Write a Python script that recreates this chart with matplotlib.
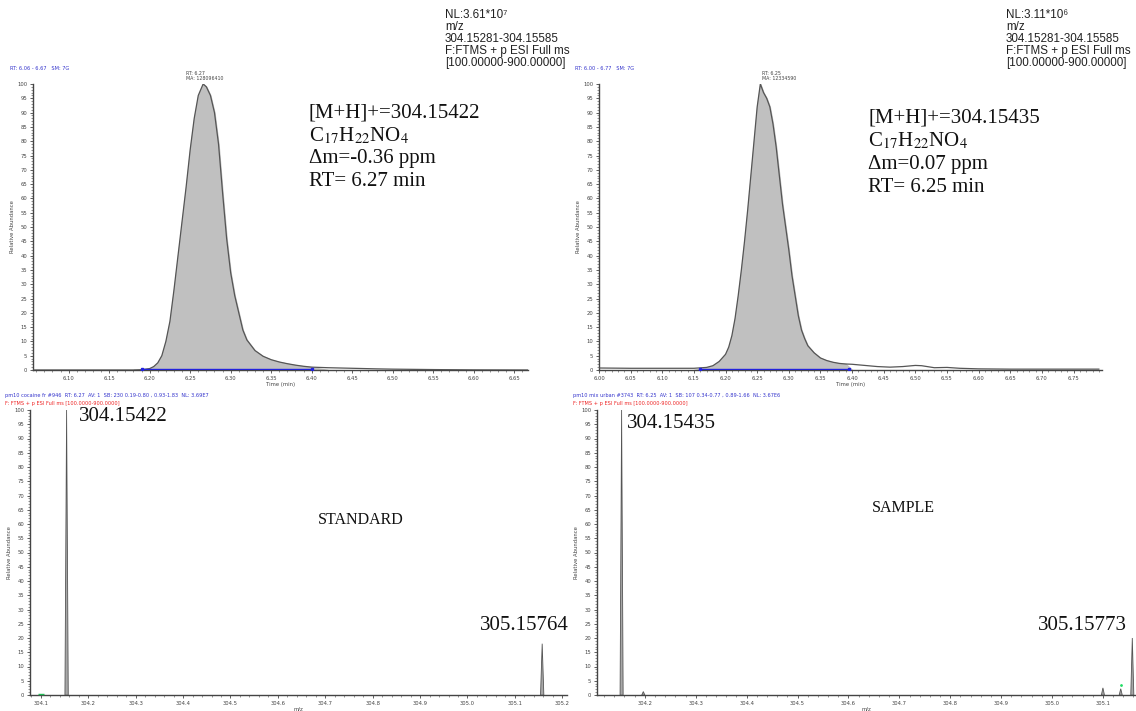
import matplotlib
matplotlib.use('Agg')
import matplotlib.pyplot as plt
from matplotlib.ticker import MultipleLocator

plt.rcParams['mathtext.fontset'] = 'stix'

# ---- Chromatogram data (RT in min, relative abundance %) ----
std_rt  = [6.056, 6.10, 6.15, 6.18, 6.19, 6.20, 6.205, 6.21, 6.215, 6.22, 6.225, 6.23, 6.235,
           6.24, 6.245, 6.25, 6.255, 6.26, 6.266, 6.27, 6.275, 6.28, 6.285, 6.29, 6.295,
           6.30, 6.305, 6.31, 6.315, 6.32, 6.33, 6.34, 6.35, 6.36, 6.37, 6.38, 6.39,
           6.40, 6.42, 6.45, 6.48, 6.50, 6.55, 6.60, 6.667]
std_abd = [0.0, 0.0, 0.0, 0.0, 0.1, 0.5, 1.2, 2.5, 5.0, 10.0, 17.0, 28.0, 40.0,
           52.0, 64.0, 77.0, 88.0, 96.0, 100.0, 99.0, 96.0, 90.0, 79.0, 62.0, 46.0,
           34.0, 26.0, 20.0, 14.0, 10.5, 6.8, 4.8, 3.6, 2.8, 2.2, 1.7, 1.3,
           1.0, 0.8, 0.6, 0.4, 0.3, 0.15, 0.05, 0.0]

smp_rt  = [6.00, 6.05, 6.10, 6.15, 6.17, 6.18, 6.19, 6.20, 6.205, 6.21, 6.215, 6.22, 6.225,
           6.23, 6.235, 6.24, 6.245, 6.25, 6.255, 6.26, 6.265, 6.27, 6.275, 6.28, 6.285,
           6.29, 6.295, 6.30, 6.305, 6.31, 6.315, 6.32, 6.325, 6.33, 6.34, 6.35, 6.36,
           6.37, 6.38, 6.39, 6.40, 6.42, 6.44, 6.46, 6.48, 6.50, 6.51, 6.53, 6.55, 6.57,
           6.60, 6.65, 6.70, 6.79]
smp_abd = [0.7, 0.6, 0.6, 0.6, 0.9, 1.5, 3.0, 5.5, 8.0, 12.0, 18.0, 26.0, 35.0,
           45.0, 56.0, 68.0, 80.0, 92.0, 100.0, 97.0, 95.0, 92.0, 86.0, 78.0, 68.0,
           58.0, 50.0, 42.0, 33.0, 26.0, 19.0, 14.0, 11.0, 8.5, 6.0, 4.2, 3.3,
           2.7, 2.3, 2.1, 2.0, 1.6, 1.2, 1.0, 1.2, 1.6, 1.5, 0.8, 0.9, 0.6,
           0.4, 0.3, 0.3, 0.3]

std_integration = (6.19, 6.40)
smp_integration = (6.16, 6.395)

# ---- Mass spectra (m/z, relative abundance %) ----
std_mz  = [304.15422, 305.15764]
std_int = [100.0, 18.0]

smp_mz  = [304.15435, 304.197, 305.100, 305.135, 305.15773]
smp_int = [100.0, 1.2, 2.5, 2.2, 20.0]

# ---- Text ----
std_info = ['[M+H]+=304.15422', r'C$_{17}$H$_{22}$NO$_{4}$', 'Δm=-0.36 ppm', 'RT= 6.27 min']
smp_info = ['[M+H]+=304.15435', r'C$_{17}$H$_{22}$NO$_{4}$', 'Δm=0.07 ppm', 'RT= 6.25 min']
std_nl = ['NL:3.61*10⁷', 'm/z', '304.15281-304.15585', 'F:FTMS + p ESI Full ms', '[100.00000-900.00000]']
smp_nl = ['NL:3.11*10⁶', 'm/z', '304.15281-304.15585', 'F:FTMS + p ESI Full ms', '[100.00000-900.00000]']

W, H = 1136, 711
fig = plt.figure(figsize=(W / 100, H / 100), dpi=100)


def px_axes(x0, y0, x1, y1):
    # pixel box (left, top, right, bottom) -> axes
    return fig.add_axes([x0 / W, 1 - y1 / H, (x1 - x0) / W, (y1 - y0) / H])


def style_axes(ax, xmajor, xminor, xfmt):
    ax.set_ylim(0, 100)
    ax.spines['top'].set_visible(False)
    ax.spines['right'].set_visible(False)
    for s in ['left', 'bottom']:
        ax.spines[s].set_color('#444444')
        ax.spines[s].set_linewidth(1.0)
    ax.yaxis.set_major_locator(MultipleLocator(5))
    ax.yaxis.set_minor_locator(MultipleLocator(1))
    ax.xaxis.set_major_locator(MultipleLocator(xmajor))
    ax.xaxis.set_minor_locator(MultipleLocator(xminor))
    ax.xaxis.set_major_formatter(xfmt)
    ax.tick_params(which='major', length=2.5, width=0.6, labelsize=3.8, pad=1.5, colors='#444444')
    ax.tick_params(which='minor', length=1.3, width=0.4, colors='#444444')
    ax.set_ylabel('Relative Abundance', fontsize=3.8, labelpad=2, color='#444444')


def draw_chromatogram(ax, rt, abd, integ, xlim):
    ax.plot(rt, abd, color='#555555', linewidth=0.9, zorder=3)
    ax.fill_between(rt, 0, abd, where=[integ[0] <= r <= integ[1] + 0.001 for r in rt],
                    interpolate=True, color='#c0c0c0', zorder=2)
    ax.plot(integ, [0.4, 0.4], color='#2222dd', linewidth=1.0, zorder=4,
            marker='s', markersize=1.8)
    ax.set_xlim(*xlim)
    style_axes(ax, 0.05, 0.01, '{x:.2f}')
    ax.set_xlabel('Time (min)', fontsize=3.8, labelpad=1, color='#444444')


def draw_spectrum(ax, mz, inten, xlim, half_w):
    for m, h in zip(mz, inten):
        ax.fill([m - half_w, m, m + half_w], [0, h, 0], facecolor='#a8a8a8',
                edgecolor='#555555', linewidth=0.6, zorder=3)
    ax.set_xlim(*xlim)
    style_axes(ax, 0.1, 0.02, '{x:.1f}')
    ax.set_xlabel('m/z', fontsize=3.8, labelpad=1, color='#444444')


# ---- Top left: standard chromatogram ----
ax_tl = px_axes(33, 84, 528, 370)
draw_chromatogram(ax_tl, std_rt, std_abd, std_integration, (6.056, 6.667))

# ---- Top right: sample chromatogram ----
ax_tr = px_axes(599, 84, 1102, 370)
draw_chromatogram(ax_tr, smp_rt, smp_abd, smp_integration, (6.00, 6.795))

# ---- Bottom left: standard spectrum ----
ax_bl = px_axes(30, 410, 567, 695)
draw_spectrum(ax_bl, std_mz, std_int, (304.077, 305.21), 0.0035)
ax_bl.plot([304.10], [0.3], marker='_', color='#22bb55', markersize=4, zorder=4)

# ---- Bottom right: sample spectrum ----
ax_br = px_axes(597, 410, 1136, 695)
draw_spectrum(ax_br, smp_mz, smp_int, (304.106, 305.165), 0.003)
ax_br.plot([305.135], [3.6], marker='.', color='#22dd66', markersize=2, zorder=4)

# ---- Small instrument headers ----
hdr = dict(fontsize=3.6, family='DejaVu Sans')
fig.text(10 / W, 1 - 68 / H, 'RT: 6.06 - 6.67   SM: 7G', color='#3333cc', va='center', **hdr)
fig.text(575 / W, 1 - 68 / H, 'RT: 6.00 - 6.77   SM: 7G', color='#3333cc', va='center', **hdr)
ax_tl.annotate('RT: 6.27\nMA: 128096410', xy=(6.266, 100), xytext=(-12, 2), textcoords='offset points',
               fontsize=3.4, color='#444444', va='bottom', ha='left', linespacing=1.0)
ax_tr.annotate('RT: 6.25\nMA: 12334590', xy=(6.255, 100), xytext=(1, 2), textcoords='offset points',
               fontsize=3.4, color='#444444', va='bottom', ha='left', linespacing=1.0)

fig.text(5 / W, 1 - 396 / H, 'pm10 cocaine fr #946  RT: 6.27  AV: 1  SB: 230 0.19-0.80 , 0.93-1.83  NL: 3.69E7',
         color='#3333cc', va='center', **hdr)
fig.text(5 / W, 1 - 403 / H, 'F: FTMS + p ESI Full ms [100.0000-900.0000]', color='#ee2222', va='center', **hdr)
fig.text(573 / W, 1 - 396 / H, 'pm10 mix urban #3743  RT: 6.25  AV: 1  SB: 107 0.34-0.77 , 0.89-1.66  NL: 3.67E6',
         color='#3333cc', va='center', **hdr)
fig.text(573 / W, 1 - 403 / H, 'F: FTMS + p ESI Full ms [100.0000-900.0000]', color='#ee2222', va='center', **hdr)

# ---- NL blocks ----
nl_font = dict(fontsize=8.4, family=['Liberation Sans', 'DejaVu Sans'], color='#222222', va='center')
for i, line in enumerate(std_nl):
    fig.text(445 / W, 1 - (15 + 12 * i) / H, line, **nl_font)
for i, line in enumerate(smp_nl):
    fig.text(1006 / W, 1 - (15 + 12 * i) / H, line, **nl_font)

# ---- Compound annotations ----
serif = dict(fontsize=15, family='Liberation Serif', color='#111111')
for i, line in enumerate(std_info):
    fig.text(309 / W, 1 - (113 + 23 * i) / H, line, va='center', **serif)
for i, line in enumerate(smp_info):
    fig.text(868 / W, 1 - (118 + 23 * i) / H, line, va='center', **serif)

# ---- Peak labels on spectra ----
ax_bl.annotate('304.15422', xy=(std_mz[0], std_int[0]), xytext=(9, -5), textcoords='offset points',
               ha='left', va='center', **serif)
ax_bl.annotate('305.15764', xy=(std_mz[1], std_int[1]), xytext=(-45, 13), textcoords='offset points',
               ha='left', va='center', **serif)
ax_br.annotate('304.15435', xy=(smp_mz[0], smp_int[0]), xytext=(4, -10), textcoords='offset points',
               ha='left', va='center', **serif)
ax_br.annotate('305.15773', xy=(smp_mz[-1], smp_int[-1]), xytext=(-68, 9), textcoords='offset points',
               ha='left', va='center', **serif)

fig.text(318 / W, 1 - 520 / H, 'STANDARD', fontsize=11.5, family='Liberation Serif', color='#111111', va='center')
fig.text(872 / W, 1 - 508 / H, 'SAMPLE', fontsize=11.5, family='Liberation Serif', color='#111111', va='center')

fig.savefig('out.png', dpi=100)
